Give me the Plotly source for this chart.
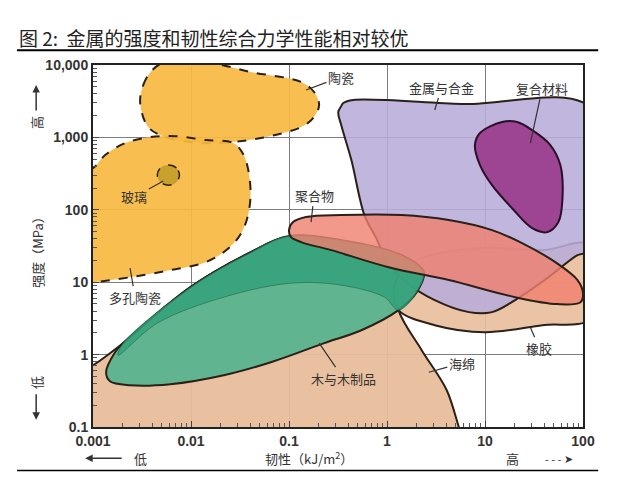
import math
import plotly.graph_objects as go

# material property envelopes: toughness (kJ/m2) vs strength (MPa)
foam_x = [0.0009, 0.001, 0.00203, 0.00988, 0.0408, 0.0977, 0.341, 1.17, 1.31, 2.26, 4.07, 5.41, 5.6, 0.0009]
foam_y = [0.68, 0.714, 1.44, 8.55, 26.0, 42.0, 32.5, 14.7, 4.11, 1.15, 0.322, 0.1, 0.09, 0.09]

rubber_x = [1.17, 1.41, 2.26, 9.31, 38.4, 120, 120, 38.4, 10.0, 3.07, 1.31, 1.17]
rubber_y = [7.77, 13.8, 21.5, 29.6, 27.7, 32.5, 3.18, 2.55, 2.04, 2.55, 4.11, 7.77]

metal_x = [0.318, 0.341, 0.358, 0.453, 5.81, 120, 120, 87.9, 43.3, 20.3, 11.8, 6.85, 3.07, 1.58, 0.988, 0.78, 0.588, 0.433, 0.341, 0.318]
metal_y = [2240, 2700, 2980, 3280, 2890, 2550, 27.7, 23.6, 11.4, 5.65, 3.86, 3.86, 5.65, 10.0, 20.2, 40.0, 84.5, 486, 1480, 2240]

wood_x = [0.00136, 0.00168, 0.00203, 0.00988, 0.0408, 0.0977, 0.341, 1.41, 2.37, 2.01, 1.31, 0.548, 0.229, 0.0653, 0.0216, 0.00616, 0.00239, 0.00149, 0.00136]
wood_y = [0.571, 1.08, 1.44, 8.55, 26.0, 43.3, 38.1, 23.6, 13.8, 7.29, 4.11, 2.17, 1.44, 0.785, 0.519, 0.39, 0.378, 0.428, 0.571]

wood_band_x = [0.0018, 0.00203, 0.00988, 0.0408, 0.0977, 0.341, 1.41, 2.37, 2.01, 1.31, 0.942, 0.341, 0.105, 0.0216, 0.00453, 0.0018]
wood_band_y = [0.98, 1.44, 8.55, 26.0, 43.3, 38.1, 23.6, 13.8, 7.29, 4.11, 6.21, 9.1, 9.7, 6.21, 2.72, 0.98]

comp_x = [14.9, 8.89, 7.89, 8.89, 11.8, 18.9, 30.3, 43.3, 56.1, 61.6, 58.7, 46.4, 30.3, 21.3, 14.9]
comp_y = [1630, 1150, 784, 415, 219, 105, 55.8, 49.2, 67.6, 136, 415, 784, 1260, 1630, 1630]

poly_x = [0.1, 0.11, 0.149, 0.341, 1.41, 4.27, 11.8, 23.9, 52.2, 87.9, 100, 94.2, 54.7, 20.3, 4.27, 1.04, 0.27, 0.133, 0.105, 0.1]
poly_y = [52.4, 67.6, 79.3, 84.5, 84.5, 72.1, 52.4, 34.7, 18.9, 10.7, 7.06, 5.30, 4.98, 6.21, 10.7, 16.1, 27.7, 35.8, 42.0, 52.4]

ceram_x = [0.00303, 0.00326, 0.00403, 0.00547, 0.0141, 0.0408, 0.133, 0.180, 0.203, 0.176, 0.133, 0.0516, 0.0254, 0.0125, 0.00547, 0.00366, 0.00303]
ceram_y = [2980, 5300, 8530, 11000, 11000, 8000, 5830, 4240, 2800, 1850, 1390, 980, 862, 835, 1010, 1390, 2980]

glass_x = [0.0009, 0.001, 0.00133, 0.00213, 0.00385, 0.00693, 0.0141, 0.027, 0.0345, 0.0398, 0.0398, 0.0338, 0.0243, 0.0141, 0.00616, 0.00239, 0.001, 0.0009]
glass_y = [377, 377, 570, 835, 1010, 1040, 919, 835, 570, 258, 116, 52.4, 29.6, 18.9, 14.7, 11.7, 10.0, 10.0]

dot_x = [0.00762, 0.0071, 0.00588, 0.00486, 0.00453, 0.00486, 0.00588, 0.0071, 0.00762]
dot_y = [302, 377, 415, 377, 302, 241, 219, 241, 302]

# labels: text, point on the region, label offset (px)
labels = ["陶瓷", "金属与合金", "复合材料", "聚合物", "玻璃", "多孔陶瓷", "木与木制品", "海绵", "橡胶"]
label_x = [0.149, 3.07, 29.0, 0.168, 0.00522, 0.00239, 0.203, 2.67, 29.0]
label_y = [4510, 2390, 835, 67.6, 250, 15.6, 1.44, 0.571, 2.39]
label_ax = [35, 7, 12, 3, -29, 5, 24, 33, 9]
label_ay = [-13, -23, -55, -27, 16, 29, 35, -9, 21]

x_ticks = [0.001, 0.01, 0.1, 1, 10, 100]
x_text = ["0.001", "0.01", "0.1", "1", "10", "100"]
y_ticks = [0.1, 1, 10, 100, 1000, 10000]
y_text = ["0.1", "1", "10", "100", "1,000", "10,000"]

fig = go.Figure()


def blob(x, y, fill, line="#2b2018", width=2, dash="solid"):
    fig.add_trace(go.Scatter(x=x, y=y, mode="lines", fill="toself", fillcolor=fill,
                             line=dict(color=line, width=width, dash=dash, shape="spline", smoothing=1),
                             hoverinfo="skip", showlegend=False))


blob(foam_x, foam_y, "rgba(233,190,155,0.95)")
blob(rubber_x, rubber_y, "rgba(233,190,155,0.9)")
blob(metal_x, metal_y, "rgba(184,172,216,0.88)")
blob(wood_x, wood_y, "rgba(82,178,142,0.9)")
blob(wood_band_x, wood_band_y, "rgba(48,160,120,0.8)", line="rgba(30,90,60,0.5)", width=1)
blob(comp_x, comp_y, "rgba(155,62,142,0.95)", line="#2a0f28")
blob(poly_x, poly_y, "rgba(240,128,110,0.8)")
blob(ceram_x, ceram_y, "rgba(247,184,64,0.92)", dash="dash")
blob(glass_x, glass_y, "rgba(247,184,64,0.92)", dash="dash")
blob(dot_x, dot_y, "rgba(200,160,44,1)", dash="dash", width=1.5)

# annotations on log axes take log10 positions
for t, x, y, ax, ay in zip(labels, label_x, label_y, label_ax, label_ay):
    fig.add_annotation(x=math.log10(x), y=math.log10(y), text=t, showarrow=True, arrowhead=0,
                       arrowwidth=1.2, arrowcolor="#333", ax=ax, ay=ay, standoff=0,
                       font=dict(size=13, color="#333", family="Noto Sans CJK SC"))

txt = dict(family="Noto Sans CJK SC", color="#333", size=13)


def caption(x, y, text, angle=0, font=txt):
    fig.add_annotation(xref="paper", yref="paper", x=x, y=y, text=text, textangle=angle,
                       xanchor="center", yanchor="middle", showarrow=False, font=font)


def arrow(x, y, ax, ay):
    fig.add_annotation(xref="paper", yref="paper", x=x, y=y, ax=ax, ay=ay, text="",
                       showarrow=True, arrowhead=2, arrowwidth=1.5, arrowcolor="#333")


# title and rules
fig.add_annotation(xref="paper", yref="paper", x=-0.155, y=1.077, xanchor="left", yanchor="middle",
                   text="图 2:  金属的强度和韧性综合力学性能相对较优", showarrow=False,
                   font=dict(family="Noto Sans CJK SC", size=19, color="#222"))
fig.add_shape(type="line", xref="paper", yref="paper", x0=-0.155, x1=1.031, y0=1.041, y1=1.041,
              line=dict(color="black", width=2))
fig.add_shape(type="line", xref="paper", yref="paper", x0=-0.155, x1=1.031, y0=-0.12, y1=-0.12,
              line=dict(color="black", width=1.5))

# y-axis captions
caption(-0.114, 0.49, "强度（MPa）", -90)
caption(-0.114, 0.84, "高", -90)
caption(-0.114, 0.122, "低", -90)
arrow(-0.116, 0.945, 0, 27)
arrow(-0.116, 0.02, 0, -27)

# x-axis captions
caption(0.096, -0.086, "低")
arrow(-0.016, -0.086, 38, 0)
caption(0.44, -0.086, "韧性（kJ/m<sup>2</sup>）")
caption(0.857, -0.086, "高")
caption(0.95, -0.086, "- - - ➤", font=dict(size=11, color="#333"))

minor = [m * 10 ** e for e in range(-3, 4) for m in range(2, 10)]
axis_common = dict(type="log", showgrid=True, gridcolor="#7d7d7d", gridwidth=1,
                   showline=True, mirror=True, linecolor="#222", linewidth=2,
                   ticks="inside", ticklen=6, tickcolor="#444", zeroline=False,
                   tickfont=dict(family="Liberation Sans", size=14, color="#333", weight="bold"),
                   minor=dict(ticks="inside", ticklen=4, tickcolor="#555", tickvals=minor, showgrid=False))

# page body adds an 8px margin at top/left, so the figure is 8px smaller than the window
fig.update_layout(
    width=615, height=472,
    margin=dict(l=85, r=40, t=57, b=53),
    paper_bgcolor="white", plot_bgcolor="white",
    showlegend=False,
)
fig.update_xaxes(axis_common, range=[-3, 2], tickvals=x_ticks, ticktext=x_text)
fig.update_yaxes(axis_common, range=[-1, 4], tickvals=y_ticks, ticktext=y_text)

fig.write_html("out.html")
